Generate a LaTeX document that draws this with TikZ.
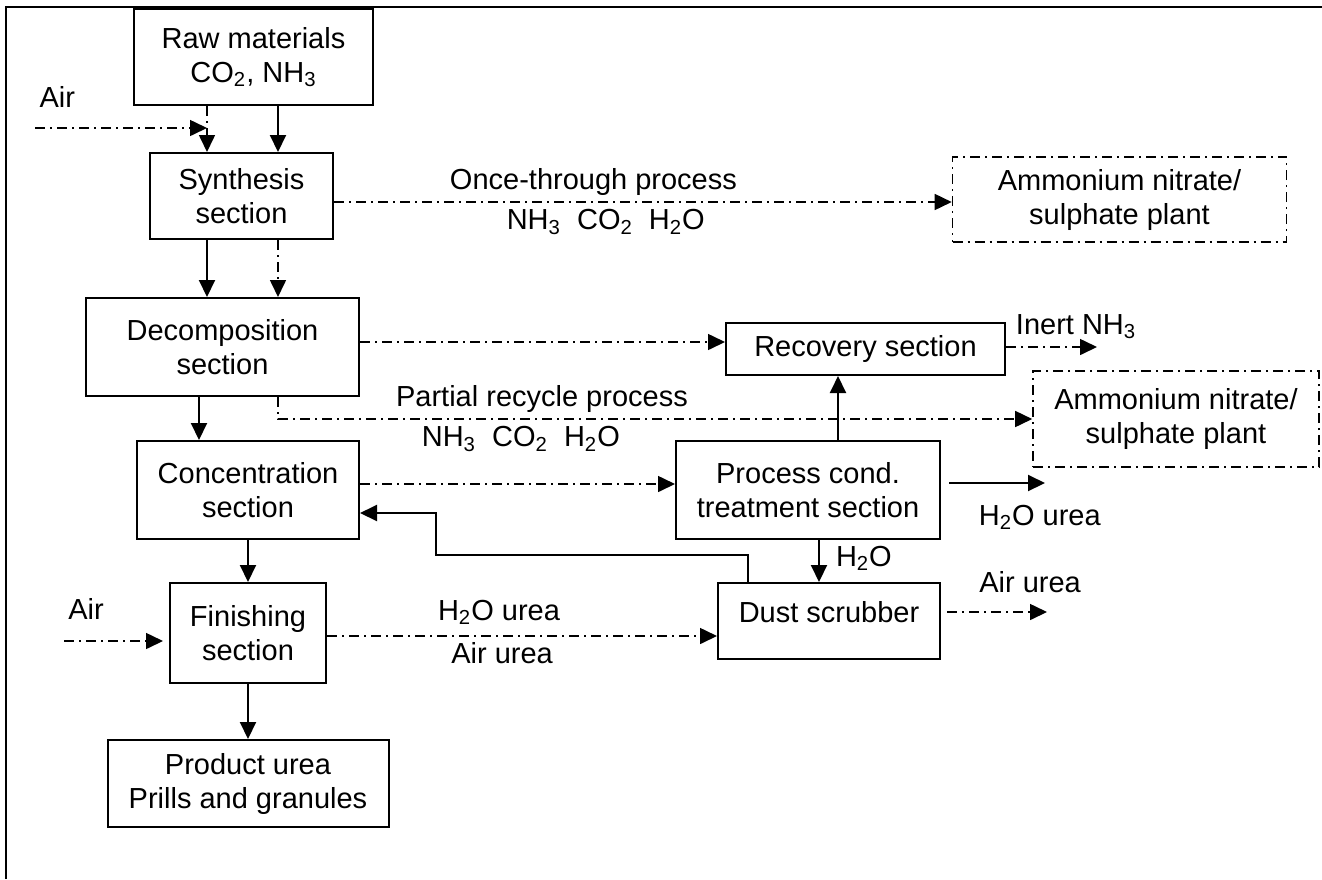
\documentclass[tikz,border=0pt]{standalone}
\usepackage{fontspec}
\setmainfont{Liberation Sans}
\usetikzlibrary{arrows.meta}

\newcommand{\chem}[1]{\textsubscript{#1}}

\begin{document}
\begin{tikzpicture}[x=0.5pt, y=-0.5pt,
        font=\fontsize{14.5pt}{17pt}\selectfont,
        unit/.style={draw, line width=1pt, align=center, inner sep=0pt},
        dashdotline/.style={dash pattern=on 5pt off 2.5pt on 1pt off 2.5pt},
        plant/.style={unit, line width=0.8pt, dashdotline},
        main/.style={line width=1pt, -{Triangle[length=8.5pt,width=8pt]}},
        side/.style={main, line width=0.8pt, dashdotline},
        tag/.style={text height=10.5pt, text depth=3pt, inner sep=3pt}]
        \useasboundingbox (0,0) rectangle (1322,879);
        \draw[line width=1.3pt] (6,879) -- (6,7) -- (1322,7);

        \node[unit, minimum width=119.5pt, minimum height=48pt] (raw) at (253.5,57) {Raw materials\\CO\chem{2}, NH\chem{3}};
        \node[unit, minimum width=91.5pt, minimum height=43pt] (synth) at (241.5,196) {Synthesis\\section};
        \node[unit, minimum width=136.5pt, minimum height=49pt] (decomp) at (222.5,347) {Decomposition\\section};
        \node[unit, minimum width=111pt, minimum height=49pt] (conc) at (248,490) {Concentration\\section};
        \node[unit, minimum width=78pt, minimum height=50pt] (finish) at (248,633) {Finishing\\section};
        \node[unit, minimum width=140.5pt, minimum height=43.5pt] (product) at (248,783.5) {Product urea\\Prills and granules};
        \node[unit, minimum width=139.5pt, minimum height=26pt] (recov) at (865.5,349) {Recovery section};
        \node[unit, minimum width=132pt, minimum height=49pt] (proc) at (808,490) {Process cond.\\treatment section};
        \node[unit, minimum width=111pt, minimum height=38pt] (dust) at (829,621) {\raisebox{4.5pt}[\height][\depth]{Dust scrubber}};
        \node[plant, minimum width=167pt, minimum height=42.5pt] (amm1) at (1119.5,199.5) {Ammonium nitrate/\\sulphate plant};
        \node[plant, minimum width=143pt, minimum height=48pt] (amm2) at (1176,419) {Ammonium nitrate/\\sulphate plant};

        \coordinate (lx) at (207,0);
        \coordinate (rx) at (278,0);
        \coordinate (dx) at (199,0);
        \coordinate (ux) at (838,0);
        \coordinate (wx) at (819,0);
        \coordinate (fx) at (748,0);
        \coordinate (ot) at (0,202);
        \coordinate (ra) at (0,342);
        \coordinate (rb) at (0,484);
        \coordinate (back) at (0,513);
        \coordinate (fb) at (436,555);
        \coordinate (fd) at (0,636);
        \coordinate (air in) at (35,128);
        \coordinate (fin air in) at (64,641);
        \coordinate (inert) at (1097,347);
        \coordinate (cond out) at (1045,483);
        \coordinate (dust out) at (1047,612);

        \draw[side] (air in) -- (lx |- air in)
            node[tag, pos=0.13, above, yshift=4pt] (air top) {Air};
        \draw[side] (raw.south -| lx) -- (synth.north -| lx);
        \draw[main] (raw.south -| rx) -- (synth.north -| rx);
        \draw[main] (synth.south -| lx) -- (decomp.north -| lx);
        \draw[side] (synth.south -| rx) -- (decomp.north -| rx);
        \draw[side] (synth.east |- ot) -- (amm1.west |- ot)
            node[tag, pos=0.42, above] (once) {Once-through process}
            node[tag, pos=0.44, below] (once gas) {NH\chem{3}\ \ CO\chem{2}\ \ H\chem{2}O};

        \draw[side] (decomp.east |- ra) -- (recov.west |- ra);
        \draw[side] (recov.east |- inert) -- (inert)
            node[tag, pos=0.77, above] (inert tag) {Inert NH\chem{3}};
        \draw[side] (decomp.south -| rx) |- (amm2.west)
            node[tag, pos=0.675, above] (partial) {Partial recycle process}
            node[tag, pos=0.661, below] (partial gas) {NH\chem{3}\ \ CO\chem{2}\ \ H\chem{2}O};
        \draw[main] (decomp.south -| dx) -- (conc.north -| dx);

        \draw[side] (conc.east |- rb) -- (proc.west |- rb);
        \draw[main] (proc.north -| ux) -- (recov.south -| ux);
        \draw[main, shorten <=4pt] (proc.east |- cond out) -- (cond out)
            node[tag, pos=0.95, below, yshift=-7pt] (cond tag) {H\chem{2}O urea};
        \draw[main] (proc.south -| wx) -- (dust.north -| wx)
            node[tag, pos=0.45, right, xshift=5pt] (water) {H\chem{2}O};
        \draw[main] (dust.north -| fx) |- (fb) |- (conc.east |- back);
        \draw[side, shorten <=3pt] (dust.east |- dust out) -- (dust out)
            node[tag, pos=0.84, above, yshift=3.5pt] (dust tag) {Air urea};

        \draw[main] (conc) -- (finish);
        \draw[side, shorten >=3pt] (fin air in) -- (finish.west |- fin air in)
            node[tag, pos=0.21, above, yshift=4.5pt] (air low) {Air};
        \draw[side] (finish.east |- fd) -- (dust.west |- fd)
            node[tag, pos=0.441, above, yshift=1.5pt] (fin water) {H\chem{2}O urea}
            node[tag, pos=0.449, below] (fin air) {Air urea};
        \draw[main] (finish) -- (product);
    \end{tikzpicture}
\end{document}
